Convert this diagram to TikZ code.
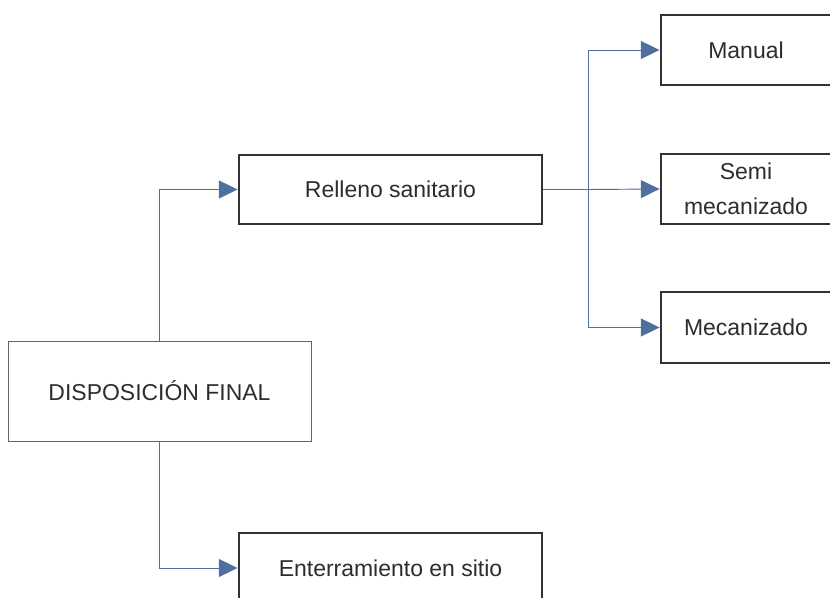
\documentclass[tikz,border=0pt]{standalone}
\usepackage{fontspec}
\setmainfont{Liberation Sans}
\usepackage{tikz}
\usetikzlibrary{arrows.meta,positioning}
\usepackage{xcolor}
\definecolor{lineblue}{RGB}{79,111,158}
\definecolor{boxdark}{RGB}{51,51,51}
\definecolor{boxgray}{RGB}{100,100,100}
\definecolor{textgray}{RGB}{45,45,45}
\tikzstyle{conn} = [line width=0.8pt,-{Triangle[length=0.56cm,width=0.54cm]},color=lineblue]
\tikzstyle{plainconn} = [line width=0.8pt,color=lineblue]
\tikzstyle{option} = [rectangle, minimum height=2.07cm, text centered, draw=boxdark, fill=white, line width=2.5pt, text=textgray, font=\fontsize{19.6}{29.8}\selectfont, inner sep=0pt, align=center]
\tikzstyle{rootbox} = [rectangle, minimum width=9.09cm, minimum height=3cm, text centered, draw=boxgray, fill=white, line width=0.7pt, text=textgray, font=\fontsize{19.6}{29.8}\selectfont]

\begin{document}
\begin{tikzpicture}[x=0.03cm, y=-0.03cm]
    \clip (0,0) rectangle (830,598);

    % Root
    \node[rootbox] (disp) at (159.5,391) {DISPOSICIÓN FINAL};

    % Second level
    \node[option, minimum width=9.09cm] (relleno) at (390.5,189.5) {Relleno sanitario};
    \node[option, minimum width=9.09cm, minimum height=2.1cm] (enterr) at (390.5,568) {Enterramiento en sitio};

    % Third level
    \node[option, minimum width=5.1cm, minimum height=2.1cm] (manual) at (746,50) {Manual};
    \node[option, minimum width=5.1cm, minimum height=2.1cm] (semi) at (746,189) {Semi\\mecanizado};
    \node[option, minimum width=5.1cm, minimum height=2.13cm] (mecan) at (746,327.5) {Mecanizado};

    % Connections
    \draw[conn] (disp.north) |- (relleno.west);
    \draw[conn] (disp.south) |- (enterr.west);
    \draw[plainconn] (relleno.east) -- ++(45,0) coordinate (split);
    \draw[conn] (split) |- (manual.west);
    \draw[conn] (split) -- (semi.west);
    \draw[conn] (split) |- (mecan.west);
\end{tikzpicture}
\end{document}
